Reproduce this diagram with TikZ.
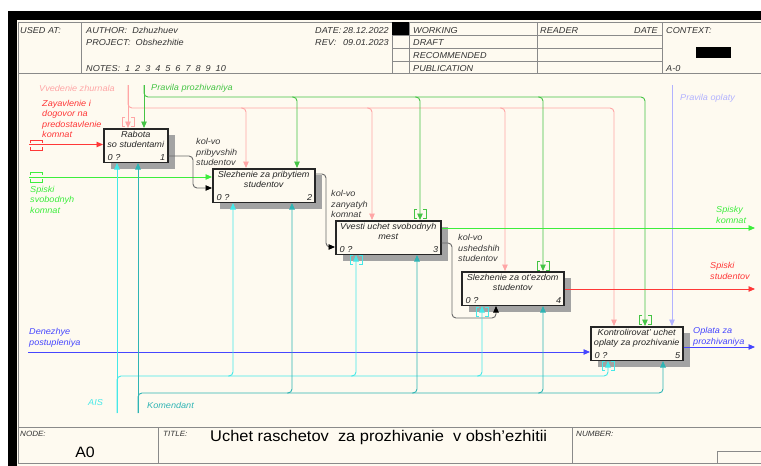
\documentclass[tikz,border=0pt]{standalone}
\usepackage{fontspec}
\setmainfont{Liberation Sans}[FakeStretch=1.06]
\usepackage{xcolor}
\definecolor{paper}{HTML}{FEFAF0}
\definecolor{frame}{HTML}{8A8A8A}
\definecolor{ctlpink}{HTML}{FFA6A6}
\definecolor{ctlgreen}{HTML}{45C445}
\definecolor{ctlblue}{HTML}{B2B2FF}
\definecolor{inred}{HTML}{FF3838}
\definecolor{inlime}{HTML}{3DEE3D}
\definecolor{inblue}{HTML}{4646FF}
\definecolor{mechcyan}{HTML}{45E8E8}
\definecolor{mechteal}{HTML}{2FB4B4}
\definecolor{flowgray}{HTML}{6A6A6A}
\definecolor{flowtxt}{HTML}{3A3A3A}
\usetikzlibrary{arrows.meta, positioning, calc}

\tikzset{
  txt/.style={font=\fontsize{8.6}{10.4}\selectfont\itshape, inner sep=0pt, align=left},
  hdr/.style={txt, text=black!80, anchor=base west},
  lbl/.style={txt, anchor=north west},
  actbox/.style={draw=black!85, line width=1.5pt, fill=paper, minimum height=33.5pt,
    anchor=north west, inner sep=0pt},
  boxshade/.style={fill=black!36},
  acttxt/.style={txt, align=center, text=black!85},
  ctl/.style={line width=0.9pt, rounded corners=4pt, -{Triangle[length=6.5pt,width=5.5pt]}},
  flow/.style={ctl, flowgray, -{Triangle[length=6.5pt,width=5.5pt,color=black]}},
  frameline/.style={draw=frame, line width=0.9pt},
  tunv/.pic={
    \draw[line width=0.8pt] (-3,-4.5) -- (-6,-4.5) -- (-6,4.5) -- (-3,4.5);
    \draw[line width=0.8pt] (3,-4.5) -- (6,-4.5) -- (6,4.5) -- (3,4.5);},
  tunh/.pic={
    \draw[line width=0.8pt] (-6,-2) -- (-6,-5) -- (6,-5) -- (6,-2);
    \draw[line width=0.8pt] (-6,2) -- (-6,5) -- (6,5) -- (6,2);}
}

\begin{document}
\begin{tikzpicture}[x=1pt, y=-1pt]
  \useasboundingbox (0,0) rectangle (761,466);
  \fill[white] (0,0) rectangle (761,466);
  % frame
  \fill[paper] (17,20) rectangle (761,466);
  \fill[black] (8,11) rectangle (761,20);
  \fill[black] (8,11) rectangle (17,466);

  % header
  \draw[frameline] (18,22) -- (761,22) (18,73) -- (761,73) (18,22) -- (18,463);
  \draw[frameline] (81,22) -- (81,73) (392,22) -- (392,73) (409,22) -- (409,73)
    (537,22) -- (537,73) (662,22) -- (662,73);
  \draw[frameline] (392,35) -- (662,35) (392,48) -- (662,48) (392,61) -- (662,61);
  \fill[black] (392,22) rectangle (409,35);
  \fill[black] (696,47) rectangle (731,58);

  \node[hdr] (usedat) at (20,33) {USED AT:};
  \node[hdr] (author) at (86,33) {AUTHOR:\ \ Dzhuzhuev};
  \node[hdr] (project) at (86,45) {PROJECT:\ \ Obshezhitie};
  \node[hdr] (notes) at (86,71) {NOTES:\hspace{5pt}1\hspace{5pt}2\hspace{5pt}3\hspace{5pt}4\hspace{5pt}5\hspace{5pt}6\hspace{5pt}7\hspace{5pt}8\hspace{5pt}9\hspace{5pt}10};
  \node[hdr] (datelbl) at (315,33) {DATE:};
  \node[hdr, anchor=base east] (dateval) at (389,33) {28.12.2022};
  \node[hdr] (revlbl) at (315,45) {REV:};
  \node[hdr, anchor=base east] (revval) at (389,45) {09.01.2023};
  \node[hdr] (working) at (413,33) {WORKING};
  \node[hdr] (draft) at (413,45) {DRAFT};
  \node[hdr] (recom) at (413,58) {RECOMMENDED};
  \node[hdr] (publ) at (413,71) {PUBLICATION};
  \node[hdr] (reader) at (540,33) {READER};
  \node[hdr, anchor=base east] (rdate) at (658,33) {DATE};
  \node[hdr] (context) at (666,33) {CONTEXT:};
  \node[hdr] (ctxnode) at (666,71) {A-0};

  % footer
  \draw[frameline] (18,427) -- (761,427) (18,463) -- (761,463)
    (158,427) -- (158,463) (572,427) -- (572,463);
  \draw[frameline] (717,463) |- (761,451);
  \node[hdr, font=\fontsize{7.6}{9}\selectfont\itshape] (nodelbl) at (20,436) {NODE:};
  \node[hdr, font=\fontsize{7.6}{9}\selectfont\itshape] (titlelbl) at (163,436) {TITLE:};
  \node[hdr, font=\fontsize{7.6}{9}\selectfont\itshape] (numlbl) at (576,436) {NUMBER:};
  \node[anchor=base, inner sep=0pt, font=\fontsize{15}{18}\selectfont] (nodeval) at (85,457) {A0};
  \node[anchor=base west, inner sep=0pt, font=\fontsize{15.5}{18}\selectfont] (title) at (210,441)
    {Uchet raschetov\ \ za prozhivanie\ \ v obsh'ezhitii};

  % activity boxes
  \foreach \bname/\bx/\by/\bw/\bt/\bn in {
      b1/103/128/64/{Rabota\\so studentami}/1,
      b2/212/168/102/{Slezhenie za pribytiem\\studentov}/2,
      b3/335/220/105/{Vvesti uchet svobodnyh\\mest}/3,
      b4/461/271/102/{Slezhenie za ot'ezdom\\studentov}/4,
      b5/590/326/92/{Kontrolirovat' uchet\\oplaty za prozhivanie}/5} {
    \fill[boxshade] (\bx+8,\by+7) rectangle ++(\bw,33.5);
    \node[actbox, minimum width=\bw pt] (\bname) at (\bx,\by) {};
    \node[acttxt, below=3pt of \bname.north] (\bname-t) {\bt};
    \node[acttxt, anchor=south west] (\bname-z) at ($(\bname.south west)+(4.5,-2.5)$) {0 ?};
    \node[acttxt, anchor=south east] (\bname-n) at ($(\bname.south east)+(-3,-2.5)$) {\bn};
  }

  % free ends
  \coordinate (vzTop) at (128,85);
  \coordinate (ppTop) at (144,85);
  \coordinate (poTop) at (672,85);
  \coordinate (zayIn) at (29,144.5);
  \coordinate (spIn) at (29,177);
  \coordinate (denIn) at (28,352);
  \coordinate (skOut) at (755,228);
  \coordinate (ssOut) at (755,289);
  \coordinate (opOut) at (755,347);
  \coordinate (aisBot) at (117,413);
  \coordinate (komBot) at (138,413);

  % controls
  \draw[ctl, ctlpink] (vzTop) -- (b1.north -| vzTop);
  \draw[ctl, ctlpink] (vzTop) |- (614,108) -- (b5.north -| 614,0);
  \foreach \cx/\bb in {246/b2, 372/b3, 505/b4}
    \draw[ctl, ctlpink] (\cx-5,108) -| (\bb.north -| \cx,0);
  \draw[ctl, ctlgreen] (ppTop) -- (b1.north -| ppTop);
  \draw[ctl, ctlgreen] (ppTop) |- (645,97) -- (b5.north -| 645,0);
  \foreach \cx/\bb in {297/b2, 420/b3, 543/b4}
    \draw[ctl, ctlgreen] (\cx-5,97) -| (\bb.north -| \cx,0);
  \draw[ctl, ctlblue] (poTop) -- (b5.north -| poTop);

  % inputs and outputs
  \draw[ctl, inred] (zayIn) -- (b1.west |- zayIn);
  \draw[ctl, inlime] (spIn) -- (b2.west |- spIn);
  \draw[ctl, inblue] (denIn) -- (b5.west |- denIn);
  \draw[flow] (b1.east |- 0,156) -| (193,188) -- (b2.west |- 0,188);
  \draw[flow] (b2.east |- 0,174) -| (326,247) -- (b3.west |- 0,247);
  \draw[flow] (b3.east |- 0,243) -| (452,318) -| (b4.south -| 496,0);
  \draw[ctl, inlime] (b3.east |- skOut) -- (skOut);
  \draw[ctl, inred] (b4.east |- ssOut) -- (ssOut);
  \draw[ctl, inblue] (b5.east |- opOut) -- (opOut);

  % mechanisms
  \draw[ctl, mechcyan] (aisBot) -- (b1.south -| aisBot);
  \draw[ctl, mechcyan] (aisBot) |- (608,376) -- (b5.south -| 608,0);
  \foreach \cx/\bb in {233/b2, 356/b3, 482/b4}
    \draw[ctl, mechcyan] (\cx-5,376) -| (\bb.south -| \cx,0);
  \draw[ctl, mechteal] (komBot) -- (b1.south -| komBot);
  \draw[ctl, mechteal] (komBot) |- (663,393) -- (b5.south -| 663,0);
  \foreach \cx/\bb in {292/b2, 417/b3, 543/b4}
    \draw[ctl, mechteal] (\cx-5,393) -| (\bb.south -| \cx,0);

  % tunnels
  \pic[ctlpink] at (128,121.5) {tunv};
  \pic[ctlgreen] at (420,214) {tunv};
  \pic[ctlgreen] at (543,266) {tunv};
  \pic[ctlgreen] at (645,320) {tunv};
  \pic[mechcyan] at (356,260) {tunv};
  \pic[mechcyan] at (482,312) {tunv};
  \pic[mechcyan] at (608,366) {tunv};
  \pic[inred] at (36,145) {tunh};
  \pic[inlime] at (36,177) {tunh};

  % arrow labels
  \node[txt, ctlpink, anchor=base west] (vzLbl) at (39,91) {Vvedenie zhurnala};
  \node[txt, ctlgreen, anchor=base west] (ppLbl) at (151,90) {Pravila prozhivaniya};
  \node[txt, ctlblue, anchor=base west] (poLbl) at (680,100) {Pravila oplaty};
  \node[lbl, inred] (zayLbl) at (42,100) {Zayavlenie i\\dogovor na\\predostavlenie\\komnat};
  \node[lbl, inlime] (spLbl) at (30,186) {Spiski\\svobodnyh\\komnat};
  \node[lbl, inblue] (denLbl) at (29,328.5) {Denezhye\\postupleniya};
  \node[lbl, flowtxt] (k1Lbl) at (196,138.5) {kol-vo\\pribyvshih\\studentov};
  \node[lbl, flowtxt] (k2Lbl) at (331,190.5) {kol-vo\\zanyatyh\\komnat};
  \node[lbl, flowtxt] (k3Lbl) at (458,234.5) {kol-vo\\ushedshih\\studentov};
  \node[lbl, inlime] (skLbl) at (716,206.5) {Spisky\\komnat};
  \node[lbl, inred] (ssLbl) at (710,262.5) {Spiski\\studentov};
  \node[lbl, inblue] (opLbl) at (693,327.5) {Oplata za\\prozhivaniya};
  \node[txt, mechcyan, anchor=base west] (aisLbl) at (88,405) {AIS};
  \node[txt, mechteal, anchor=base west] (komLbl) at (147,408) {Komendant};
\end{tikzpicture}
\end{document}
